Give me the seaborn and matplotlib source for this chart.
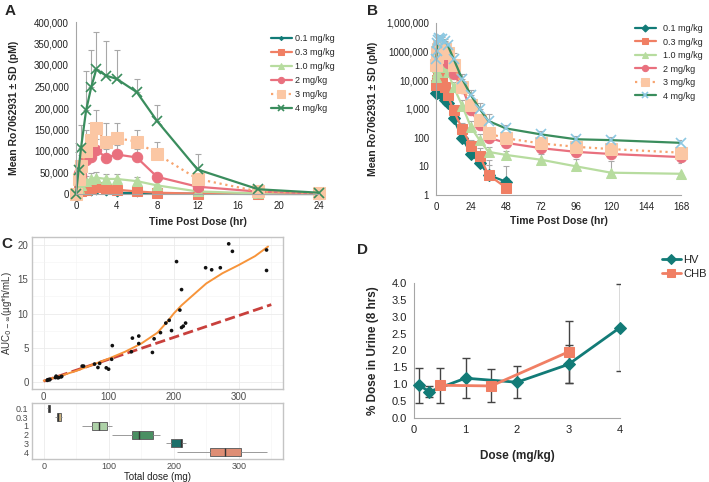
import numpy as np
import pandas as pd
import seaborn as sns
from matplotlib import pyplot as plt
from matplotlib.ticker import FuncFormatter, MultipleLocator, NullLocator, FixedLocator

sns.set_style('white')
plt.rcParams['font.family'] = ['Liberation Sans', 'DejaVu Sans']
plt.rcParams['mathtext.fontset'] = 'dejavusans'

nan = np.nan

# ---- A/B: mean Ro7062931 (pM) + SD by dose group
hours = [0, 0.25, 0.5, 1, 1.5, 2, 3, 4, 6, 8, 12, 18, 24, 30, 36, 48, 72, 96, 120, 168]
dose_labels = ['0.1 mg/kg', '0.3 mg/kg', '1.0 mg/kg', '2 mg/kg', '3 mg/kg', '4 mg/kg']

conc_01 = [0, 3700, 3700, 5000, 5500, 6000, 4000, 3000, 2000, 1600, 470, 95, 28, 13, 5, 2.9, nan, nan, nan, nan]
conc_03 = [0, 7000, 8000, 10000, 15000, 17000, 12000, 10000, 6000, 3000, 900, 200, 52, 23, 5, 1.8, nan, nan, nan, nan]
conc_1 = [0, 13000, 20000, 30000, 35000, 38000, 35000, 35000, 30000, 20000, 6000, 1300, 230, 80, 32, 25, 17, 10, 6, 5.5]
conc_2 = [0, 50000, 45000, 78000, 85000, 103000, 84000, 92000, 85000, 40000, 17000, 5500, 900, 275, 100, 66, 43, 32, 27, 21]
conc_3 = [0, 35000, 65000, 100000, 125000, 153000, 120000, 130000, 122000, 93000, 35000, 6000, 1380, 410, 140, 95, 63, 48, 40, 30]
conc_4 = [0, 55000, 108000, 195000, 248000, 290000, 275000, 268000, 237000, 170000, 57000, 11000, 3000, 1000, 380, 210, 130, 88, 82, 66]

sd_01 = [0, 1500, 1500, 2000, 2000, 2000, 1500, 1200, 800, 700, 250, 60, 15, 8, 6, 7.5, nan, nan, nan, nan]
sd_03 = [0, 3000, 3500, 5000, 6000, 6000, 4500, 4000, 2500, 1200, 400, 120, 30, 20, 11, 2, nan, nan, nan, nan]
sd_1 = [0, 5000, 8000, 12000, 13000, 14000, 12000, 11000, 9000, 7000, 2500, 700, 150, 50, 15, 10, 9, 8, 9, 8]
sd_2 = [0, 15000, 15000, 22000, 25000, 25000, 20000, 22000, 20000, 10000, 6000, 2500, 500, 150, 50, 30, 20, 15, 12, 10]
sd_3 = [0, 15000, 25000, 50000, 39000, 42000, 44000, 34000, 27000, 27000, 15000, 3000, 800, 250, 80, 50, 35, 25, 20, 15]
sd_4 = [0, 20000, 52000, 90000, 87000, 87000, 80000, 67000, 31000, 38000, 36000, 5000, 1500, 600, 300, 60, 40, 30, 25, 20]

b_ticks = [1, 10, 100, 1000, 10000, 100000, 1000000]
b_ticklabels = ['1', '10', '100', '1,000', '10,000', '1000,000', '1,000,000']

# ---- C: AUC vs total dose, per subject, grouped by mg/kg
grp_order = ['0.1', '0.3', '1', '2', '3', '4']
dose_01 = [5.5, 6.3, 7.7, 9.0, 9.5]
auc_01 = [0.22, 0.30, 0.34, 0.30, 0.36]
dose_03 = [18.0, 19.1, 21.6, 23.2, 26.8, 27.8]
auc_03 = [0.62, 0.83, 0.60, 0.63, 0.73, 0.80]
dose_1 = [59.2, 61.3, 78.2, 83.4, 86.0, 96.2, 99.8, 104.5]
auc_1 = [2.3, 2.3, 2.6, 2.1, 2.7, 2.05, 1.85, 3.3]
dose_2 = [105.5, 134.8, 136.4, 146.2, 146.2, 167.2, 169.8, 179.6]
auc_2 = [5.3, 4.4, 6.4, 6.7, 5.6, 4.3, 6.3, 7.2]
dose_3 = [187.8, 193.0, 196.6, 209.4, 212.0, 212.0, 214.6, 218.2]
auc_3 = [8.6, 9.0, 7.5, 10.5, 13.5, 7.95, 8.15, 8.6]
dose_4 = [204.3, 249.0, 258.3, 271.6, 284.5, 290.2, 342.7, 342.7]
auc_4 = [17.6, 16.7, 16.4, 16.7, 20.2, 19.1, 19.3, 16.3]

smooth_dose = [0, 25, 50, 75, 100, 125, 150, 175, 190, 200, 212, 225, 250, 275, 300, 325, 345]
smooth_auc = [0.15, 0.85, 1.6, 2.5, 3.4, 4.4, 5.6, 7.2, 8.8, 10.0, 11.2, 12.3, 14.4, 15.9, 17.1, 18.4, 19.8]
lin_dose = [0, 350]
lin_auc = [0.1, 11.3]

# ---- D: % dose in urine (8 hrs)
hv_dose = [0.1, 0.3, 1, 2, 3, 4]
hv_pct = [0.97, 0.78, 1.18, 1.06, 1.59, 2.68]
hv_sd = [0.52, 0.17, 0.60, 0.48, 0.56, 1.28]
chb_dose = [0.5, 1.5, 3]
chb_pct = [0.97, 0.95, 1.96]
chb_sd = [0.52, 0.49, 0.92]

teal = '#127b77'
salmon = '#f07f64'
lgreen = '#b7dc9f'
pink = '#e9707e'
peach = '#fbc7a4'
orange_dot = '#f7a46f'
green = '#3a8d5d'
lblue = '#8cc8e2'

W, H = 709, 482
fig = plt.figure(figsize=(7.09, 4.82), dpi=100)


def add_axes(x0, y0, x1, y1):
    return fig.add_axes([x0 / W, 1 - y1 / H, (x1 - x0) / W, (y1 - y0) / H])


def excel_style(ax, fs):
    ax.set_facecolor('none')
    for s in ['top', 'right']:
        ax.spines[s].set_visible(False)
    for s in ['left', 'bottom']:
        ax.spines[s].set_color('#a6a6a6')
        ax.spines[s].set_linewidth(0.8)
    ax.tick_params(axis='both', direction='out', length=3, width=0.8, color='#a6a6a6',
                   labelsize=fs, labelcolor='#222222', pad=2)
    ax.grid(False)


def gg_style(ax):
    ax.set_facecolor('white')
    for s in ax.spines.values():
        s.set_color('#c4c4c4')
        s.set_linewidth(1.0)
    ax.grid(True, which='major', color='#ebebeb', linewidth=0.6)
    ax.grid(True, which='minor', color='#f3f3f3', linewidth=0.4)
    ax.set_axisbelow(True)
    ax.tick_params(which='major', length=1.5, width=0.6, color='#9a9a9a',
                   labelsize=7, labelcolor='#4d4d4d', pad=1)
    ax.tick_params(which='minor', length=0)


axA = add_axes(76, 22, 319, 194)
axB = add_axes(436, 23, 681, 195)
axC = add_axes(32, 237, 283, 389)
axCb = add_axes(32, 403, 283, 459)
axD = add_axes(414, 283, 620, 418)

concs = [conc_01, conc_03, conc_1, conc_2, conc_3, conc_4]
sds = [sd_01, sd_03, sd_1, sd_2, sd_3, sd_4]

styles = [
    dict(color=teal, marker='D', markersize=3.5, markeredgecolor=teal, linewidth=1.6),
    dict(color=salmon, marker='s', markersize=6.5, markeredgecolor=salmon, linewidth=1.6),
    dict(color=lgreen, marker='^', markersize=7, markeredgecolor=lgreen, linewidth=1.6),
    dict(color=pink, marker='o', markersize=7.5, markeredgecolor=pink, linewidth=1.6),
    dict(color=orange_dot, marker='s', markersize=9, markerfacecolor=peach,
         markeredgecolor=peach, linewidth=1.6, linestyle=':'),
    dict(color=green, marker='x', markersize=7, markeredgecolor=green,
         markeredgewidth=1.2, linewidth=1.6),
]

t = np.array(hours, dtype=float)

# ---------- A
for lab, conc, sd, st in zip(dose_labels, concs, sds, styles):
    c = np.array(conc, float)
    s = np.array(sd, float)
    m = (t <= 24) & ~np.isnan(c)
    axA.errorbar(t[m], c[m], yerr=[np.zeros(m.sum()), s[m]], fmt='none', ecolor='#a8a8a8',
                 elinewidth=0.8, capsize=2, capthick=0.8, zorder=1)
    sns.lineplot(x=t[m], y=c[m], ax=axA, label=lab, clip_on=False, **st)

excel_style(axA, 7)
axA.set_xlim(0, 24)
axA.set_ylim(0, 400000)
axA.set_xticks(range(0, 25, 4))
axA.yaxis.set_major_locator(MultipleLocator(50000))
axA.yaxis.set_major_formatter(FuncFormatter(lambda v, p: f'{int(v):,}'))
axA.set_xlabel('Time Post Dose (hr)', fontsize=7.5, fontweight='bold')
axA.set_ylabel('Mean Ro7062931 ± SD (pM)', fontsize=7.5, fontweight='bold')
axA.xaxis.set_label_coords(0.5, -0.135)
axA.yaxis.set_label_coords(-0.235, 0.5)
axA.legend(loc='upper left', bbox_to_anchor=(271 / W, 1 - 34 / H), bbox_transform=fig.transFigure,
           frameon=False, fontsize=6.5, handlelength=2.3, handletextpad=0.4, labelspacing=0.55,
           borderpad=0, borderaxespad=0, markerscale=0.6)

# ---------- B
axB.set_yscale('log')
for i, (lab, conc, sd, st) in enumerate(zip(dose_labels, concs, sds, styles)):
    c = np.array(conc, float)
    s = np.array(sd, float)
    m = ~np.isnan(c) & (c > 0)
    st = dict(st)
    if i == 0:
        st['markersize'] = 6
    if i == 5:
        st['markeredgecolor'] = lblue
    axB.errorbar(t[m], c[m], yerr=[np.zeros(m.sum()), s[m]], fmt='none', ecolor='#a8a8a8',
                 elinewidth=0.8, capsize=2, capthick=0.8, zorder=1)
    sns.lineplot(x=t[m], y=c[m], ax=axB, label=lab, clip_on=False, **st)

excel_style(axB, 7)
axB.set_xlim(0, 168)
axB.set_ylim(1, 1e6)
axB.set_xticks(range(0, 169, 24))
axB.yaxis.set_major_locator(FixedLocator(b_ticks))
axB.yaxis.set_minor_locator(NullLocator())
axB.set_yticklabels(b_ticklabels)
axB.set_xlabel('Time Post Dose (hr)', fontsize=7.5, fontweight='bold')
axB.set_ylabel('Mean Ro7062931 ± SD (pM)', fontsize=7.5, fontweight='bold')
axB.xaxis.set_label_coords(0.5, -0.12)
axB.yaxis.set_label_coords(-0.235, 0.5)
axB.legend(loc='upper left', bbox_to_anchor=(635 / W, 1 - 24 / H), bbox_transform=fig.transFigure,
           frameon=False, fontsize=6.5, handlelength=2.3, handletextpad=0.8, labelspacing=0.5,
           borderpad=0, borderaxespad=0, markerscale=0.6)

# ---------- C
c_doses = [dose_01, dose_03, dose_1, dose_2, dose_3, dose_4]
c_aucs = [auc_01, auc_03, auc_1, auc_2, auc_3, auc_4]
c_df = pd.concat([pd.DataFrame({'group': g, 'dose': d, 'auc': a})
                  for g, d, a in zip(grp_order, c_doses, c_aucs)], ignore_index=True)

gg_style(axC)
sns.lineplot(x=lin_dose, y=lin_auc, ax=axC, color='#c8403c', linewidth=2, linestyle='--', zorder=2)
sns.lineplot(x=smooth_dose, y=smooth_auc, ax=axC, color='#f7943a', linewidth=1.4, zorder=3)
sns.scatterplot(data=c_df, x='dose', y='auc', ax=axC, color='#111111', s=7, edgecolor='none', zorder=4)
axC.set_xlim(-18, 368)
axC.set_ylim(-1.05, 21.2)
axC.xaxis.set_major_locator(MultipleLocator(100))
axC.xaxis.set_minor_locator(MultipleLocator(50))
axC.yaxis.set_major_locator(MultipleLocator(5))
axC.yaxis.set_minor_locator(MultipleLocator(2.5))
axC.set_xlabel('')
axC.set_ylabel(r'AUC$_{0-\infty}$(µg*h/mL)', fontsize=7, color='#333333')
axC.yaxis.set_label_coords(-0.07, 0.5)

box_colors = ['#4a3f3f', '#d8b873', '#a8d8a0', '#3f9a5e', '#0e7e76', '#f08462']
gg_style(axCb)
sns.boxplot(data=c_df, x='dose', y='group', hue='group', order=grp_order, hue_order=grp_order,
            palette=box_colors, legend=False, dodge=False, width=0.9, linewidth=0.7,
            linecolor='#666666', showcaps=False, showfliers=False,
            whiskerprops=dict(color='#9a9a9a'),
            medianprops=dict(color='#333333', linewidth=1), ax=axCb)
axCb.set_xlim(-18, 368)
axCb.set_ylim(5.8, -0.63)
axCb.xaxis.set_major_locator(MultipleLocator(100))
axCb.xaxis.set_minor_locator(MultipleLocator(50))
axCb.tick_params(axis='y', labelsize=6.5)
axCb.tick_params(axis='x', labelsize=6.5)
axCb.set_ylabel('')
axCb.set_xlabel('Total dose (mg)', fontsize=7, color='#222222')
axCb.xaxis.set_label_coords(0.5, -0.225)

# ---------- D
sns.lineplot(x=hv_dose, y=hv_pct, ax=axD, color=teal, marker='D', markersize=6.5,
             markeredgecolor=teal, linewidth=2, label='HV', clip_on=False, zorder=3)
sns.lineplot(x=chb_dose, y=chb_pct, ax=axD, color=salmon, marker='s', markersize=7.5,
             markeredgecolor=salmon, linewidth=2, label='CHB', clip_on=False, zorder=3)
axD.errorbar(hv_dose, hv_pct, yerr=hv_sd, fmt='none', ecolor='#444444', elinewidth=1,
             capsize=3, capthick=1, zorder=2)
axD.errorbar(chb_dose, chb_pct, yerr=chb_sd, fmt='none', ecolor='#444444', elinewidth=1,
             capsize=3, capthick=1, zorder=2)
excel_style(axD, 8)
axD.set_xlim(0, 4)
axD.set_ylim(0, 4)
axD.set_xticks(range(0, 5))
axD.yaxis.set_major_locator(MultipleLocator(0.5))
axD.yaxis.set_major_formatter(FuncFormatter(lambda v, p: f'{v:.1f}'))
axD.set_xlabel('Dose (mg/kg)', fontsize=8.5, fontweight='bold')
axD.set_ylabel('% Dose in Urine (8 hrs)', fontsize=8.5, fontweight='bold')
axD.xaxis.set_label_coords(0.5, -0.237)
axD.yaxis.set_label_coords(-0.17, 0.5)
axD.legend(loc='upper left', bbox_to_anchor=(662 / W, 1 - 255 / H), bbox_transform=fig.transFigure,
           frameon=False, fontsize=8, handlelength=1.7, handletextpad=0.2, labelspacing=0.35,
           borderpad=0, borderaxespad=0, markerscale=0.85)

# panel letters
for x, y, s in [(5, 4, 'A'), (367, 4, 'B'), (1, 237, 'C'), (357, 243, 'D')]:
    fig.text(x / W, 1 - y / H, s, fontsize=11, fontweight='bold', va='top', ha='left')

fig.savefig('out.png', dpi=100)
